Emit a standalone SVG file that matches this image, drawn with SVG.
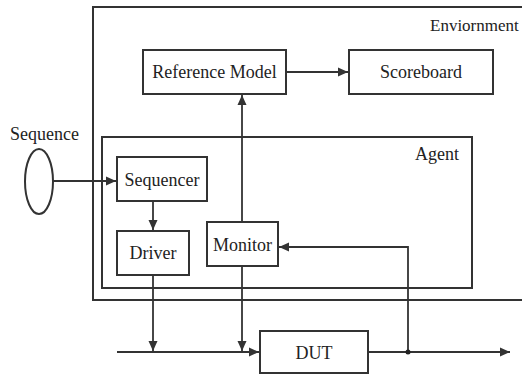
<svg xmlns="http://www.w3.org/2000/svg" width="522" height="376" viewBox="0 0 522 376">
  <style>
    .box { fill: #fff; stroke: #333; stroke-width: 2; }
    .frame { fill: none; stroke: #333; stroke-width: 2; }
    .lbl { font-size: 18px; fill: #222; }
    .mid { text-anchor: middle; }
    .wire { fill: none; stroke: #333; stroke-width: 1.8; }
  </style>
  <defs>
    <marker id="arrow" viewBox="0 0 10 10" refX="10" refY="5" markerWidth="10" markerHeight="10" markerUnits="userSpaceOnUse" orient="auto">
      <path d="M0,0.5 L10,5 L0,9.5 z" fill="#333"/>
    </marker>
  </defs>

  <rect width="522" height="376" fill="#fff"/>

  <g font-family="Liberation Serif, DejaVu Serif, Noto Serif, Times, serif">
  <!-- environment container (open to the right) -->
  <g id="environment">
    <path class="frame" d="M530,7 H93 V300 H530"/>
    <text class="lbl" x="430" y="31" style="font-size:17px">Enviornment</text>
  </g>

  <!-- agent container -->
  <g id="agent">
    <rect class="frame" x="102" y="137" width="370" height="151"/>
    <text class="lbl" x="415" y="160">Agent</text>
  </g>

  <g id="reference-model">
    <rect class="box" x="143" y="50" width="143" height="44"/>
    <text class="lbl mid" x="214.5" y="78">Reference Model</text>
  </g>

  <g id="scoreboard">
    <rect class="box" x="349" y="50" width="144" height="44"/>
    <text class="lbl mid" x="421" y="78">Scoreboard</text>
  </g>

  <g id="sequence">
    <ellipse class="box" cx="39" cy="181.5" rx="14" ry="32.5"/>
    <text class="lbl" x="10" y="140">Sequence</text>
  </g>

  <g id="sequencer">
    <rect class="box" x="117" y="157" width="90" height="44"/>
    <text class="lbl mid" x="162" y="186">Sequencer</text>
  </g>

  <g id="driver">
    <rect class="box" x="117" y="231" width="72" height="44"/>
    <text class="lbl mid" x="153" y="259">Driver</text>
  </g>

  <g id="monitor">
    <rect class="box" x="207" y="222" width="71" height="44"/>
    <text class="lbl mid" x="242.5" y="251">Monitor</text>
  </g>

  <g id="dut">
    <rect class="box" x="260" y="331" width="108" height="42"/>
    <text class="lbl mid" x="314" y="359">DUT</text>
  </g>
  </g>

  <g id="connectors">
    <line class="wire" x1="286" y1="72" x2="348" y2="72" marker-end="url(#arrow)"/>
    <line class="wire" x1="53" y1="181" x2="116" y2="181" marker-end="url(#arrow)"/>
    <line class="wire" x1="153" y1="201" x2="153" y2="230" marker-end="url(#arrow)"/>
    <line class="wire" x1="242" y1="222" x2="242" y2="95" marker-end="url(#arrow)"/>
    <line class="wire" x1="153" y1="275" x2="153" y2="351" marker-end="url(#arrow)"/>
    <line class="wire" x1="242" y1="266" x2="242" y2="351" marker-end="url(#arrow)"/>
    <line class="wire" x1="117" y1="352" x2="259" y2="352" marker-end="url(#arrow)"/>
    <line class="wire" x1="368" y1="352" x2="510" y2="352" marker-end="url(#arrow)"/>
    <path class="wire" d="M408,352 V247 H279" marker-end="url(#arrow)"/>
    <circle cx="408" cy="352" r="2.5" fill="#222"/>
  </g>
</svg>
